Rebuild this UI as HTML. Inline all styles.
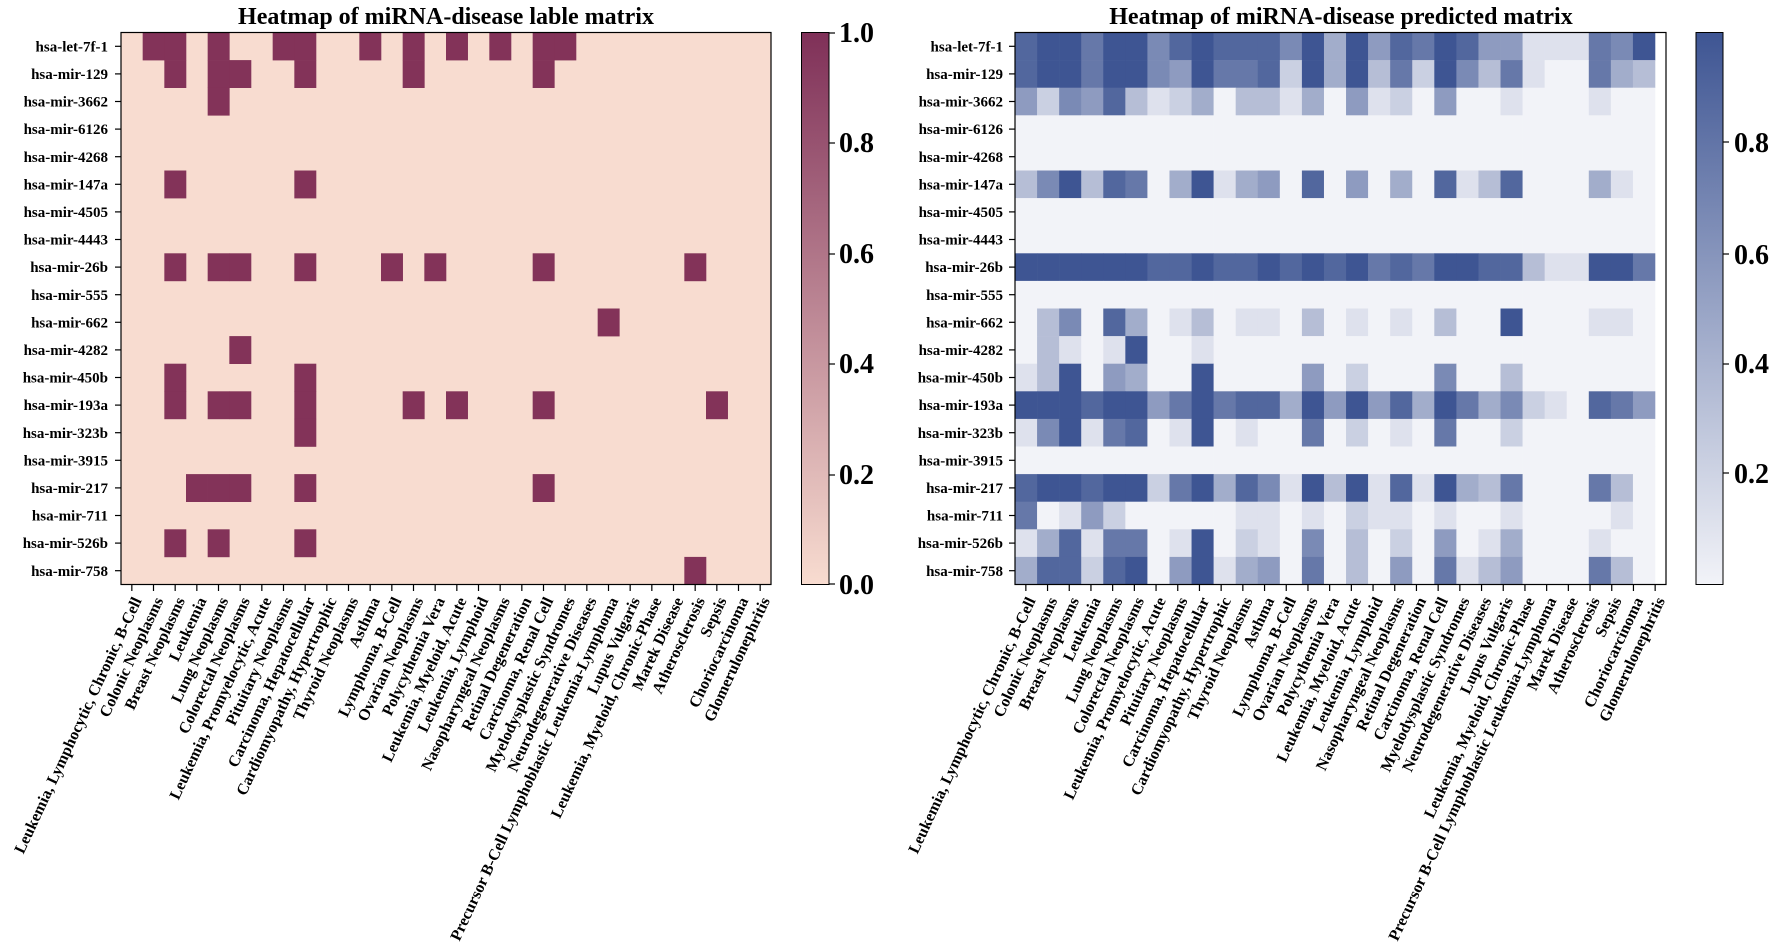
<!DOCTYPE html>
<html><head><meta charset="utf-8"><style>
html,body{margin:0;padding:0;background:#fff;}
svg{display:block;font-family:"Liberation Serif",serif;font-weight:bold;}
</style></head><body>
<svg id="s" width="1770" height="952" viewBox="0 0 1770 952" xmlns="http://www.w3.org/2000/svg">
<defs>
<linearGradient id="gL" x1="0" y1="1" x2="0" y2="0"><stop offset="0" stop-color="#f8dcd0"/><stop offset="1" stop-color="#7f3058"/></linearGradient>
<linearGradient id="gR" x1="0" y1="1" x2="0" y2="0"><stop offset="0" stop-color="#f2f3f8"/><stop offset="1" stop-color="#3e5593"/></linearGradient>
</defs>
<text x="446" y="24" font-size="24" text-anchor="middle">Heatmap of miRNA-disease lable matrix</text>
<text x="1341" y="24" font-size="24" text-anchor="middle">Heatmap of miRNA-disease predicted matrix</text>
<rect x="121" y="32.5" width="650" height="552" fill="#f8dcd0"/>
<g id="cl"></g>
<rect x="121" y="32.5" width="650" height="552" fill="none" stroke="#000" stroke-width="1.2"/>
<rect x="1015" y="32.5" width="651" height="552" fill="#fff"/>
<g id="cr"></g>
<rect x="1015" y="32.5" width="651" height="552" fill="none" stroke="#000" stroke-width="1.2"/>
<rect x="801.5" y="32.5" width="27.5" height="552" fill="url(#gL)" stroke="#000" stroke-width="1"/>
<rect x="1696" y="32.5" width="27" height="552" fill="url(#gR)" stroke="#000" stroke-width="1"/>
<g font-size="28">
<text x="839" y="42">1.0</text><text x="839" y="152">0.8</text><text x="839" y="263">0.6</text><text x="839" y="373">0.4</text><text x="839" y="484">0.2</text><text x="839" y="594">0.0</text>
<text x="1734" y="152">0.8</text><text x="1734" y="264">0.6</text><text x="1734" y="373">0.4</text><text x="1734" y="483">0.2</text>
</g>
<g stroke="#000" stroke-width="1.2">
<line x1="829" y1="33" x2="835" y2="33"/><line x1="829" y1="143" x2="835" y2="143"/><line x1="829" y1="254" x2="835" y2="254"/><line x1="829" y1="364" x2="835" y2="364"/><line x1="829" y1="475" x2="835" y2="475"/><line x1="829" y1="584" x2="835" y2="584"/>
<line x1="1723" y1="142" x2="1729" y2="142"/><line x1="1723" y1="254" x2="1729" y2="254"/><line x1="1723" y1="364" x2="1729" y2="364"/><line x1="1723" y1="473" x2="1729" y2="473"/>
</g>
<g id="ticks" stroke="#000" stroke-width="1.2"></g>
<g font-size="15" text-anchor="end">
<text x="108" y="51.5">hsa-let-7f-1</text><text x="108" y="79">hsa-mir-129</text><text x="108" y="106.5">hsa-mir-3662</text><text x="108" y="134">hsa-mir-6126</text><text x="108" y="162">hsa-mir-4268</text><text x="108" y="189.5">hsa-mir-147a</text><text x="108" y="217">hsa-mir-4505</text><text x="108" y="244.5">hsa-mir-4443</text><text x="108" y="272">hsa-mir-26b</text><text x="108" y="300">hsa-mir-555</text><text x="108" y="327.5">hsa-mir-662</text><text x="108" y="355">hsa-mir-4282</text><text x="108" y="382.5">hsa-mir-450b</text><text x="108" y="410">hsa-mir-193a</text><text x="108" y="438">hsa-mir-323b</text><text x="108" y="465.5">hsa-mir-3915</text><text x="108" y="493">hsa-mir-217</text><text x="108" y="520.5">hsa-mir-711</text><text x="108" y="548">hsa-mir-526b</text><text x="108" y="576">hsa-mir-758</text>
</g>
<g font-size="15" text-anchor="end">
<text x="1003" y="51.5">hsa-let-7f-1</text><text x="1003" y="79">hsa-mir-129</text><text x="1003" y="106.5">hsa-mir-3662</text><text x="1003" y="134">hsa-mir-6126</text><text x="1003" y="162">hsa-mir-4268</text><text x="1003" y="189.5">hsa-mir-147a</text><text x="1003" y="217">hsa-mir-4505</text><text x="1003" y="244.5">hsa-mir-4443</text><text x="1003" y="272">hsa-mir-26b</text><text x="1003" y="300">hsa-mir-555</text><text x="1003" y="327.5">hsa-mir-662</text><text x="1003" y="355">hsa-mir-4282</text><text x="1003" y="382.5">hsa-mir-450b</text><text x="1003" y="410">hsa-mir-193a</text><text x="1003" y="438">hsa-mir-323b</text><text x="1003" y="465.5">hsa-mir-3915</text><text x="1003" y="493">hsa-mir-217</text><text x="1003" y="520.5">hsa-mir-711</text><text x="1003" y="548">hsa-mir-526b</text><text x="1003" y="576">hsa-mir-758</text>
</g>
<g id="xl" font-size="16" text-anchor="end">
<text>Leukemia, Lymphocytic, Chronic, B-Cell</text><text>Colonic Neoplasms</text><text>Breast Neoplasms</text><text>Leukemia</text><text>Lung Neoplasms</text><text>Colorectal Neoplasms</text><text>Leukemia, Promyelocytic, Acute</text><text>Pituitary Neoplasms</text><text>Carcinoma, Hepatocellular</text><text>Cardiomyopathy, Hypertrophic</text><text>Thyroid Neoplasms</text><text>Asthma</text><text>Lymphoma, B-Cell</text><text>Ovarian Neoplasms</text><text>Polycythemia Vera</text><text>Leukemia, Myeloid, Acute</text><text>Leukemia, Lymphoid</text><text>Nasopharyngeal Neoplasms</text><text>Retinal Degeneration</text><text>Carcinoma, Renal Cell</text><text>Myelodysplastic Syndromes</text><text>Neurodegenerative Diseases</text><text>Precursor B-Cell Lymphoblastic Leukemia-Lymphoma</text><text>Lupus Vulgaris</text><text>Leukemia, Myeloid, Chronic-Phase</text><text>Marek Disease</text><text>Atherosclerosis</text><text>Sepsis</text><text>Choriocarcinoma</text><text>Glomerulonephritis</text>
</g>
<g id="xr" font-size="16" text-anchor="end">
<text>Leukemia, Lymphocytic, Chronic, B-Cell</text><text>Colonic Neoplasms</text><text>Breast Neoplasms</text><text>Leukemia</text><text>Lung Neoplasms</text><text>Colorectal Neoplasms</text><text>Leukemia, Promyelocytic, Acute</text><text>Pituitary Neoplasms</text><text>Carcinoma, Hepatocellular</text><text>Cardiomyopathy, Hypertrophic</text><text>Thyroid Neoplasms</text><text>Asthma</text><text>Lymphoma, B-Cell</text><text>Ovarian Neoplasms</text><text>Polycythemia Vera</text><text>Leukemia, Myeloid, Acute</text><text>Leukemia, Lymphoid</text><text>Nasopharyngeal Neoplasms</text><text>Retinal Degeneration</text><text>Carcinoma, Renal Cell</text><text>Myelodysplastic Syndromes</text><text>Neurodegenerative Diseases</text><text>Lupus Vulgaris</text><text>Leukemia, Myeloid, Chronic-Phase</text><text>Precursor B-Cell Lymphoblastic Leukemia-Lymphoma</text><text>Marek Disease</text><text>Atherosclerosis</text><text>Sepsis</text><text>Choriocarcinoma</text><text>Glomerulonephritis</text>
</g>
</svg>
<script>
var NS="http://www.w3.org/2000/svg";
function R(g,x,y,w,h,f){var r=document.createElementNS(NS,"rect");r.setAttribute("x",x);r.setAttribute("y",y);r.setAttribute("width",w);r.setAttribute("height",h);r.setAttribute("fill",f);g.appendChild(r);}
function L(g,x1,y1,x2,y2){var l=document.createElementNS(NS,"line");l.setAttribute("x1",x1);l.setAttribute("y1",y1);l.setAttribute("x2",x2);l.setAttribute("y2",y2);g.appendChild(l);}
var rh=552/20, Lx=121, Lw=650/30;
var lab={0:[1,2,4,7,8,11,13,15,17,19,20],1:[2,4,5,8,13,19],2:[4],5:[2,8],8:[2,4,5,8,12,14,19,26],10:[22],11:[5],12:[2,8],13:[2,4,5,8,13,15,19,27],14:[8],16:[3,4,5,8,19],18:[2,4,8],19:[26]};
var cl=document.getElementById("cl");
for(var r in lab){lab[r].forEach(function(c){R(cl,(Lx+c*Lw).toFixed(2),(32.5+r*rh).toFixed(2),(Lw+0.3).toFixed(2),(rh+0.3).toFixed(2),"#833359");});}
var P={0:[8,9,9,7,9,9,6,8,9,8,8,8,6,9,4,9,5,8,7,9,8,5,5,1,1,1,7,6,9],
1:[8,9,9,7,9,9,6,5,9,7,7,8,2,9,4,9,3,7,2,9,6,3,7,1,0,0,7,4,3],
2:[5,2,6,5,8,3,1,2,4,0,3,3,1,4,0,5,1,2,0,5,0,0,1,0,0,0,1,0,0],
5:[3,6,9,3,8,7,0,4,9,1,4,5,0,8,0,5,0,4,0,8,1,3,8,0,0,0,4,1,0],
8:[9,9,9,9,9,9,8,8,9,8,8,9,8,9,8,9,7,8,7,9,9,8,8,3,1,1,9,9,7],
10:[0,3,6,0,8,4,0,1,3,0,1,1,0,3,0,1,0,1,0,3,0,0,9,0,0,0,1,1,0],
11:[0,3,1,0,1,9,0,0,1,0,0,0,0,0,0,0,0,0,0,0,0,0,0,0,0,0,0,0,0],
12:[1,3,9,0,5,4,0,0,9,0,0,0,0,5,0,2,0,0,0,6,0,0,3,0,0,0,0,0,0],
13:[9,9,9,8,9,9,5,7,9,7,8,8,4,9,5,9,5,8,4,9,7,4,6,2,1,0,8,7,5],
14:[1,6,9,1,7,8,0,1,9,0,1,0,0,7,0,2,0,1,0,7,0,0,2,0,0,0,0,0,0],
16:[8,9,9,8,9,9,2,7,9,4,8,6,1,9,3,9,1,8,1,9,4,3,7,0,0,0,7,3,0],
17:[7,0,1,5,2,0,0,0,0,0,1,1,0,1,0,2,1,1,0,1,0,0,1,0,0,0,0,1,0],
18:[1,4,8,1,7,7,0,1,9,0,2,1,0,6,0,3,0,2,0,5,0,1,4,0,0,0,1,0,0],
19:[4,8,8,2,8,9,0,5,9,1,4,5,0,7,0,3,0,5,0,7,1,3,5,0,0,0,7,3,0]};
var a=[242,243,248],b=[62,85,147];
function col(v){var t=v/9;return "rgb("+a.map(function(q,i){return Math.round(q+(b[i]-q)*t)}).join(",")+")";}
var cr=document.getElementById("cr"), Rx=1015, Rw=640/29;
for(var r=0;r<20;r++){for(var c=0;c<29;c++){var v=P[r]?P[r][c]:0;R(cr,(Rx+c*Rw).toFixed(2),(32.5+r*rh).toFixed(2),(Rw+0.3).toFixed(2),(rh+0.3).toFixed(2),col(v));}}
var tk=document.getElementById("ticks");
for(var r=0;r<20;r++){var y=32.5+(r+0.5)*rh;L(tk,115,y,121,y);L(tk,1009,y,1015,y);}
var Rt=651/30;
for(var c=0;c<30;c++){var x=Lx+(c+0.5)*Lw;L(tk,x,584.5,x,591);var x2=Rx+(c+0.5)*Rt;L(tk,x2,584.5,x2,591);}
var xl=document.getElementById("xl").children, xr=document.getElementById("xr").children;
for(var c=0;c<30;c++){var x=Lx+(c+0.5)*Lw+5;xl[c].setAttribute("transform","translate("+x+",598) rotate(-65)");xl[c].setAttribute("dy","0.35em");
var x2=Rx+(c+0.5)*Rt+5;xr[c].setAttribute("transform","translate("+x2+",598) rotate(-65)");xr[c].setAttribute("dy","0.35em");}
</script>
</body></html>
